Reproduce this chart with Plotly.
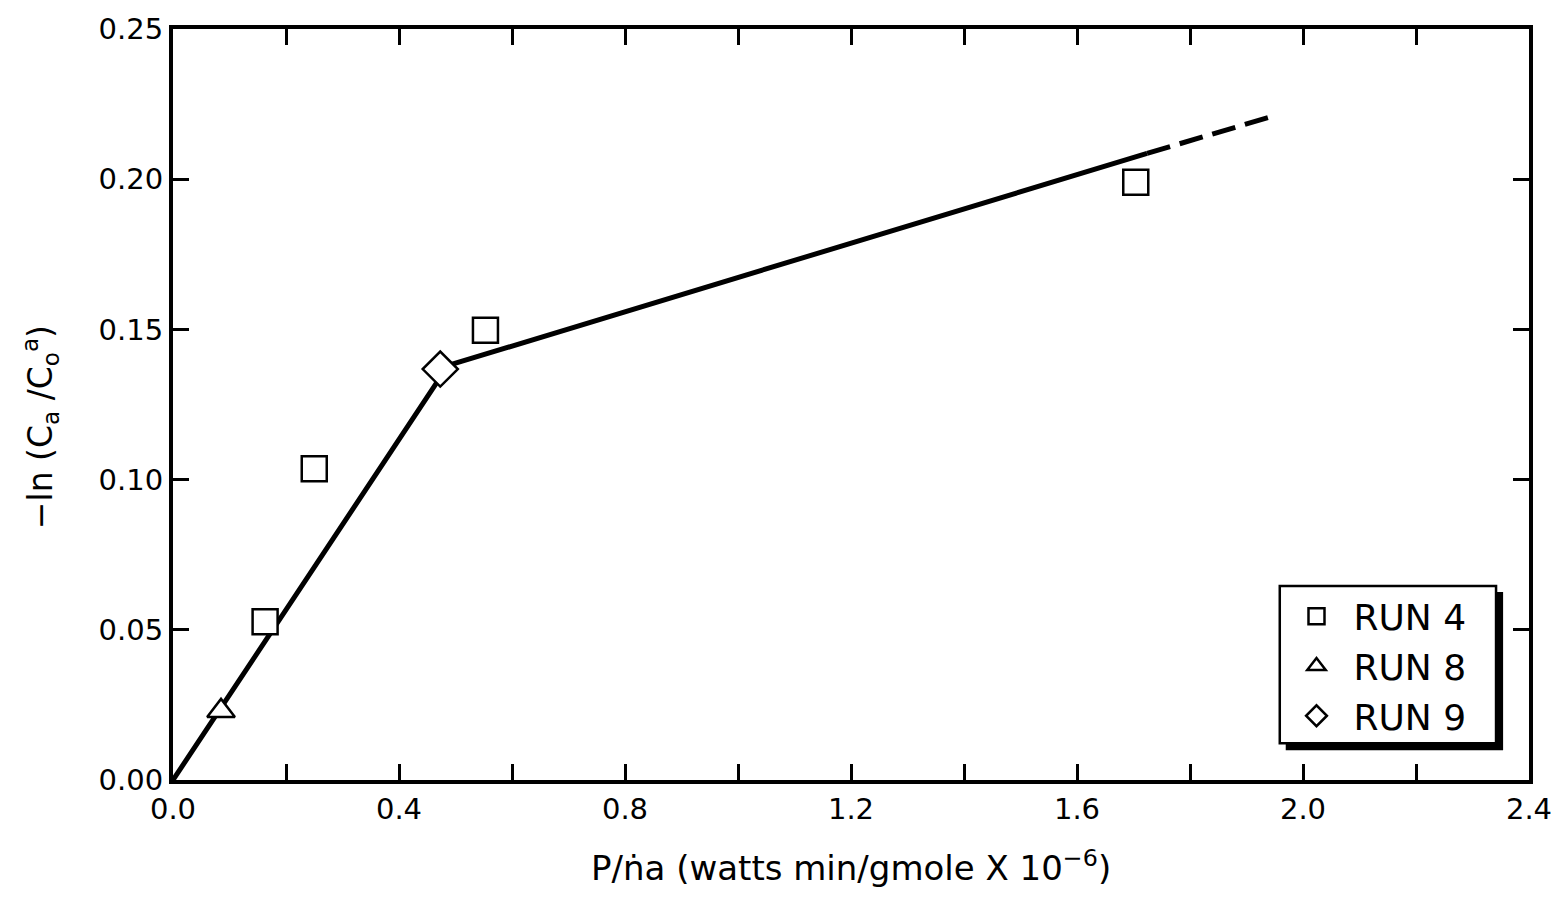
import plotly.graph_objects as go

# ---- data ----
run4_x = [0.163, 0.250, 0.553, 1.704]
run4_y = [0.0527, 0.1036, 0.1497, 0.199]
run8_x = [0.085]
run8_y = [0.023]
run9_x = [0.473]
run9_y = [0.1368]

fit_x = [0.0, 0.487, 1.724]
fit_y = [0.0, 0.138, 0.2086]
ext_x = [1.724, 1.947]
ext_y = [0.2086, 0.221]

x_ticks = [0.0, 0.4, 0.8, 1.2, 1.6, 2.0, 2.4]
x_labels = ["0.0", "0.4", "0.8", "1.2", "1.6", "2.0", "2.4"]
x_minor_ticks = [0.2, 0.6, 1.0, 1.4, 1.8, 2.2]
y_ticks = [0.00, 0.05, 0.10, 0.15, 0.20, 0.25]
y_labels = ["0.00", "0.05", "0.10", "0.15", "0.20", "0.25"]

FONT = "DejaVu Sans, Liberation Sans, Arial, sans-serif"
BLACK = "#000000"

fig = go.Figure()

fig.add_trace(go.Scatter(x=fit_x, y=fit_y, mode="lines",
                         line=dict(color=BLACK, width=5),
                         showlegend=False, hoverinfo="skip"))
fig.add_trace(go.Scatter(x=ext_x, y=ext_y, mode="lines",
                         line=dict(color=BLACK, width=5, dash="24px,10px"),
                         showlegend=False, hoverinfo="skip"))

marker_common = dict(color="white", line=dict(color=BLACK, width=2.5))
fig.add_trace(go.Scatter(x=run4_x, y=run4_y, mode="markers", name="RUN 4",
                         marker=dict(symbol="square", size=25, **marker_common)))
fig.add_trace(go.Scatter(x=run8_x, y=run8_y, mode="markers", name="RUN 8",
                         marker=dict(symbol="triangle-up", size=24, **marker_common)))
fig.add_trace(go.Scatter(x=run9_x, y=run9_y, mode="markers", name="RUN 9",
                         marker=dict(symbol="diamond", size=27, **marker_common)))

axis_common = dict(showline=True, linecolor=BLACK, linewidth=4, mirror="allticks",
                   ticks="inside", ticklen=16, tickwidth=2.5, tickcolor=BLACK,
                   showgrid=False, zeroline=False,
                   tickfont=dict(family=FONT, size=29, color=BLACK))

fig.update_xaxes(range=[0, 2.4], tickvals=x_ticks, ticktext=x_labels,
                 minor=dict(tickvals=x_minor_ticks, ticks="inside", ticklen=16,
                            tickwidth=2.5, tickcolor=BLACK, showgrid=False),
                 **axis_common)
fig.update_yaxes(range=[0, 0.25], tickvals=y_ticks, ticktext=y_labels, **axis_common)

fig.add_annotation(text="P/\u1e45a (watts min/gmole X 10<sup>\u22126</sup>)",
                   xref="paper", yref="paper", x=0.5, y=-0.114, yanchor="middle",
                   showarrow=False, font=dict(family=FONT, size=34, color=BLACK))
fig.add_annotation(text="\u2212ln (C<sub>a</sub> /C<sub>o</sub><sup>a</sup>)",
                   xref="paper", yref="paper", x=-0.098, y=0.47, textangle=-90,
                   xanchor="center", yanchor="middle",
                   showarrow=False, font=dict(family=FONT, size=33, color=BLACK))

# legend frame: offset black shadow, then white box with black border
fig.add_shape(type="rect", xref="paper", yref="paper",
              x0=0.8206, x1=0.9809, y0=0.0397, y1=0.2503,
              fillcolor=BLACK, line=dict(width=0), layer="above")
fig.add_shape(type="rect", xref="paper", yref="paper",
              x0=0.8162, x1=0.9757, y0=0.049, y1=0.2583,
              fillcolor="white", line=dict(color=BLACK, width=2.5), layer="above")

fig.update_layout(
    width=1564, height=899,
    margin=dict(l=173, r=31, t=25, b=119),
    paper_bgcolor="white", plot_bgcolor="white",
    showlegend=True,
    legend=dict(x=0.816, y=0.258, xanchor="left", yanchor="top",
                bgcolor="rgba(0,0,0,0)", borderwidth=0,
                font=dict(family=FONT, size=36, color=BLACK),
                itemsizing="trace", itemwidth=64, tracegroupgap=0),
    font=dict(family=FONT, color=BLACK),
)

fig.write_html("out.html")
